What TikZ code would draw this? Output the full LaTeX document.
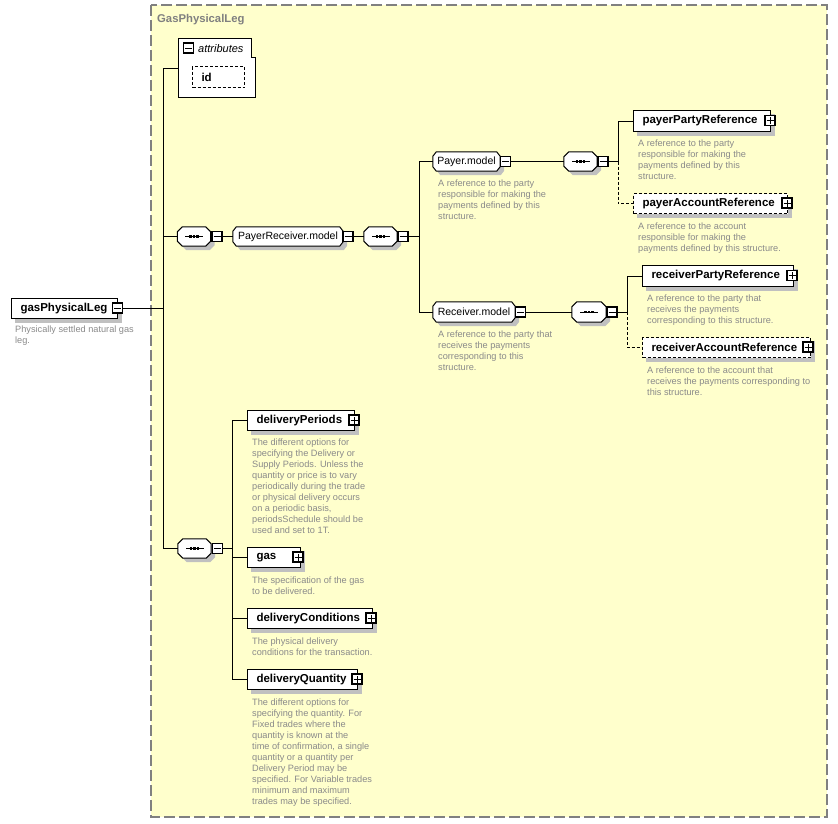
\documentclass[tikz,border=0pt]{standalone}
\usepackage{fontspec}
\setmainfont{Liberation Sans}
\definecolor{bgyellow}{HTML}{FFFFCC}
\definecolor{framegray}{HTML}{808080}
\definecolor{descgray}{HTML}{8A8A8A}
\definecolor{shadegray}{HTML}{C0C0C0}
\pgfdeclarelayer{framelayer}
\pgfdeclarelayer{shadowlayer}
\pgfdeclarelayer{shapelayer}
\pgfsetlayers{framelayer,shadowlayer,shapelayer,main}
% octagon outline around a (rectangular, undrawn) node: name, chamfer x, chamfer y, shift x, shift y
\newcommand{\octpath}[5]{([xshift=#2+#4,yshift=#5]#1.north west) -- ([xshift=-#2+#4,yshift=#5]#1.north east) -- ([xshift=#4,yshift=-#3+#5]#1.north east) -- ([xshift=#4,yshift=#3+#5]#1.south east) -- ([xshift=-#2+#4,yshift=#5]#1.south east) -- ([xshift=#2+#4,yshift=#5]#1.south west) -- ([xshift=#4,yshift=#3+#5]#1.south west) -- ([xshift=#4,yshift=-#3+#5]#1.north west) -- cycle}
\newcommand{\octshape}[3]{%
  \begin{pgfonlayer}{shadowlayer}\fill[shadegray] \octpath{#1}{#2}{#3}{4pt}{-4pt};\end{pgfonlayer}%
  \begin{pgfonlayer}{shapelayer}\draw[fill=white, line width=1pt] \octpath{#1}{#2}{#3}{0pt}{0pt};\end{pgfonlayer}}
\newcommand{\rectshadow}[1]{%
  \begin{pgfonlayer}{shadowlayer}\fill[shadegray] ([xshift=4pt,yshift=-4pt]#1.south west) rectangle ([xshift=4pt,yshift=-4pt]#1.north east);\end{pgfonlayer}}
\newcommand{\seqdots}[1]{%
  \fill ([xshift=-9pt,yshift=-0.5pt]#1.center) rectangle ([xshift=9pt,yshift=0.5pt]#1.center);
  \foreach \dx in {-3.6,0,3.6}{\fill ([xshift=\dx pt-1.35pt,yshift=-1.35pt]#1.center) rectangle ([xshift=\dx pt+1.35pt,yshift=1.35pt]#1.center);}}
\begin{document}
\begin{tikzpicture}[x=1pt,y=-1pt,
  elem/.style={draw, fill=white, line width=1pt, inner xsep=9pt, inner ysep=0pt,
    align=left, anchor=north west, font=\fontsize{11.5}{13}\selectfont\bfseries},
  optelem/.style={elem, dash pattern=on 3pt off 2pt},
  model/.style={rectangle, inner xsep=2pt, inner ysep=0pt, font=\fontsize{10.5}{12}\selectfont},
  seqbox/.style={rectangle, inner sep=0pt, minimum width=33pt, minimum height=19pt},
  pmbox/.style={draw, fill=white, line width=1.1pt, minimum size=10pt, inner sep=0pt},
  minusbox/.style={pmbox, path picture={
      \draw[line width=0.9pt] ([xshift=-3.5pt]path picture bounding box.center) -- ([xshift=3.5pt]path picture bounding box.center);}},
  plusbox/.style={pmbox, path picture={
      \draw[line width=0.9pt] ([xshift=-3.5pt]path picture bounding box.center) -- ([xshift=3.5pt]path picture bounding box.center)
        ([yshift=-3.5pt]path picture bounding box.center) -- ([yshift=3.5pt]path picture bounding box.center);}},
  desc/.style={anchor=north west, inner sep=0pt, align=left, text=descgray, font=\fontsize{9.2}{11}\selectfont},
  conn/.style={line width=1pt},
  optconn/.style={conn, dash pattern=on 3pt off 2pt}
]
\useasboundingbox (0,0) rectangle (838,823);

% frame
\begin{pgfonlayer}{framelayer}
\draw[framegray, fill=bgyellow, line width=1.3pt, dash pattern=on 11pt off 4pt] (151,5) rectangle (827,817);
\end{pgfonlayer}
\node[font=\fontsize{11.3}{13}\selectfont\bfseries, text=framegray, anchor=base west, inner sep=0pt] (title) at (157,22.5) {GasPhysicalLeg};

% root element
\node[elem, text width=88pt, minimum height=20pt] (main) at (11,298) {gasPhysicalLeg};
\rectshadow{main}
\node[minusbox] (main-m) at (117.5,308) {};
\node[desc] (main-d) at (15,325.5) {Physically settled natural gas\\leg.};

% attributes
\draw[fill=white, line width=1pt] (178,38) -- (251,38) -- (251,57) -- (255,57) -- (255,97) -- (178,97) -- cycle;
\coordinate (attrW) at (178,68);
\node[minusbox] (attr-m) at (188.5,48) {};
\node[font=\fontsize{11}{13}\selectfont\itshape, anchor=base west, inner sep=0pt] (attr-l) at (198,52.5) {attributes};
\node[optelem, text width=34pt, minimum height=21pt] (id) at (192,66) {id};
\rectshadow{id}

% PayerReceiver branch
\node[seqbox] (seq1) at (194,236.5) {};
\octshape{seq1}{5pt}{5pt}\seqdots{seq1}
\node[minusbox] (seq1-m) at (217,236.5) {};
\node[model, minimum width=110pt, minimum height=19pt] (prm) at (288,236.5) {PayerReceiver.model};
\octshape{prm}{3.5pt}{4.5pt}
\node[minusbox] (prm-m) at (348,236.5) {};
\node[seqbox] (seq2) at (380.5,236.5) {};
\octshape{seq2}{5pt}{5pt}\seqdots{seq2}
\node[minusbox] (seq2-m) at (403,236.5) {};

% Payer.model
\node[model, minimum width=67pt, minimum height=19pt] (payer) at (466.5,161.5) {Payer.model};
\octshape{payer}{3.5pt}{4.5pt}
\node[minusbox] (payer-m) at (505.5,161.5) {};
\node[desc] (payer-d) at (438,179.5) {A reference to the party\\responsible for making the\\payments defined by this\\structure.};
\node[seqbox] (seq3) at (580.5,161.5) {};
\octshape{seq3}{5pt}{5pt}\seqdots{seq3}
\node[minusbox] (seq3-m) at (603,161.5) {};
\node[elem, text width=119pt, minimum height=21pt] (ppr) at (633,110) {payerPartyReference};
\rectshadow{ppr}
\node[plusbox] (ppr-p) at (770,120.5) {};
\node[desc] (ppr-d) at (638,139.5) {A reference to the party\\responsible for making the\\payments defined by this\\structure.};
\node[optelem, text width=136pt, minimum height=20pt] (par) at (633,193) {payerAccountReference};
\rectshadow{par}
\node[plusbox] (par-p) at (787,203) {};
\node[desc] (par-d) at (638,222.5) {A reference to the account\\responsible for making the\\payments defined by this structure.};

% Receiver.model
\node[model, minimum width=82pt, minimum height=20pt] (recv) at (474,312) {Receiver.model};
\octshape{recv}{3.5pt}{4.5pt}
\node[minusbox] (recv-m) at (520.5,312) {};
\node[desc] (recv-d) at (438,330.5) {A reference to the party that\\receives the payments\\corresponding to this\\structure.};
\node[seqbox, minimum width=34pt, minimum height=20pt] (seq4) at (589,312) {};
\octshape{seq4}{5pt}{5pt}\seqdots{seq4}
\node[minusbox] (seq4-m) at (612,312) {};
\node[elem, text width=133pt, minimum height=21pt] (rpr) at (642,265) {receiverPartyReference};
\rectshadow{rpr}
\node[plusbox] (rpr-p) at (792,275.5) {};
\node[desc] (rpr-d) at (647,294.5) {A reference to the party that\\receives the payments\\corresponding to this structure.};
\node[optelem, text width=150pt, minimum height=20pt] (rar) at (642,337) {receiverAccountReference};
\rectshadow{rar}
\node[plusbox] (rar-p) at (808,347) {};
\node[desc] (rar-d) at (647,366.5) {A reference to the account that\\receives the payments corresponding to\\this structure.};

% delivery sequence
\node[seqbox] (seq5) at (194.5,548.5) {};
\octshape{seq5}{5pt}{5pt}\seqdots{seq5}
\node[minusbox] (seq5-m) at (217.5,548.5) {};
\node[elem, text width=89pt, minimum height=20pt] (dp) at (247,410) {deliveryPeriods};
\rectshadow{dp}
\node[plusbox] (dp-p) at (354,420) {};
\node[desc] (dp-d) at (252,438.5) {The different options for\\specifying the Delivery or\\Supply Periods. Unless the\\quantity or price is to vary\\periodically during the trade\\or physical delivery occurs\\on a periodic basis,\\periodsSchedule should be\\used and set to 1T.};
\node[elem, text width=35pt, minimum height=20pt] (gas) at (247,547) {gas};
\rectshadow{gas}
\node[plusbox] (gas-p) at (298,557) {};
\node[desc] (gas-d) at (252,576.5) {The specification of the gas\\to be delivered.};
\node[elem, text width=107pt, minimum height=20pt] (dc) at (247,608) {deliveryConditions};
\rectshadow{dc}
\node[plusbox] (dc-p) at (371,618) {};
\node[desc] (dc-d) at (252,637.5) {The physical delivery\\conditions for the transaction.};
\node[elem, text width=92pt, minimum height=20pt] (dq) at (247,669) {deliveryQuantity};
\rectshadow{dq}
\node[plusbox] (dq-p) at (357,679) {};
\node[desc] (dq-d) at (252,698.5) {The different options for\\specifying the quantity. For\\Fixed trades where the\\quantity is known at the\\time of confirmation, a single\\quantity or a quantity per\\Delivery Period may be\\specified. For Variable trades\\minimum and maximum\\trades may be specified.};

% connectors
\coordinate (bus1) at (163,0);
\coordinate (bus2) at (419,0);
\coordinate (bus3) at (618,0);
\coordinate (bus4) at (627,0);
\coordinate (bus5) at (232,0);
\draw[conn] (attrW) -- (attrW -| bus1) |- (seq5.west);
\draw[conn] (seq1.west) -- (seq1.west -| bus1);
\draw[conn] (main-m.east) -- (main-m.east -| bus1);
\draw[conn] (seq1-m.east) -- (prm.west);
\draw[conn] (prm-m.east) -- (seq2.west);
\draw[conn] (seq2-m.east) -- (seq2-m.east -| bus2);
\draw[conn] (payer.west) -- (payer.west -| bus2) -- (recv.west -| bus2) -- (recv.west);
\draw[conn] (payer-m.east) -- (seq3.west);
\draw[conn] (seq3-m.east) -- (seq3-m.east -| bus3) |- (ppr.west);
\draw[optconn] (seq3-m.east -| bus3) |- (par.west);
\draw[conn] (recv-m.east) -- (seq4.west);
\draw[conn] (seq4-m.east) -- (seq4-m.east -| bus4) |- (rpr.west);
\draw[optconn] (seq4-m.east -| bus4) |- (rar.west);
\draw[conn] (seq5-m.east) -- (seq5-m.east -| bus5);
\draw[conn] (dp.west) -- (dp.west -| bus5) -- (dq.west -| bus5) -- (dq.west);
\draw[conn] (gas.west) -- (gas.west -| bus5);
\draw[conn] (dc.west) -- (dc.west -| bus5);
\end{tikzpicture}
\end{document}
